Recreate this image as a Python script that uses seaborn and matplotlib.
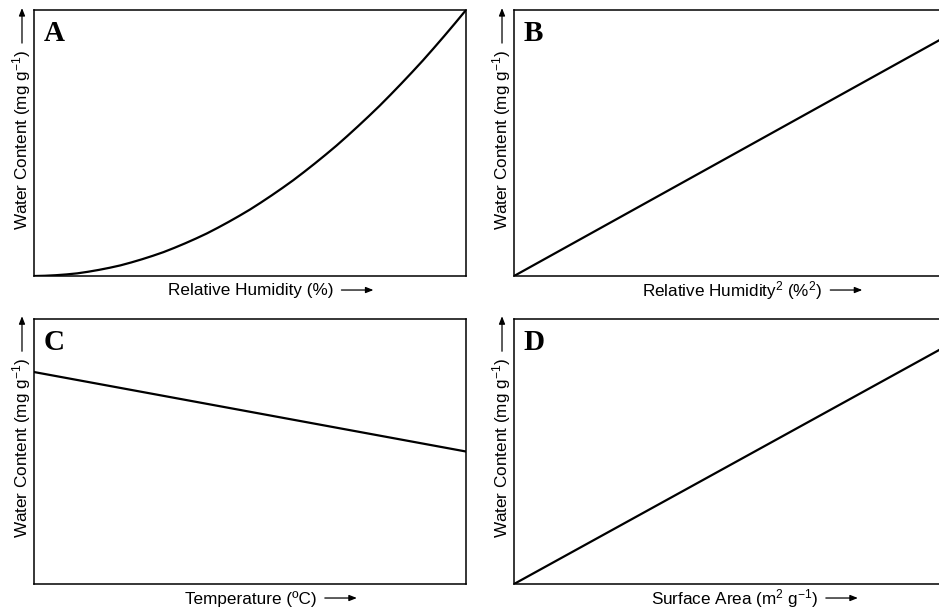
import matplotlib
matplotlib.use("Agg")
import matplotlib.pyplot as plt
import seaborn as sns
import pandas as pd

sns.set_theme(style="white")
plt.rcParams["font.family"] = ["Liberation Sans", "DejaVu Sans"]
plt.rcParams["text.color"] = "black"
plt.rcParams["mathtext.fontset"] = "custom"
plt.rcParams["mathtext.rm"] = "Liberation Sans"
plt.rcParams["mathtext.it"] = "Liberation Sans"

# Panel A: water content vs relative humidity (relative units)
rh_a = [0.000, 0.025, 0.050, 0.075, 0.100, 0.125, 0.150, 0.175, 0.200, 0.225,
        0.250, 0.275, 0.300, 0.325, 0.350, 0.375, 0.400, 0.425, 0.450, 0.475,
        0.500, 0.525, 0.550, 0.575, 0.600, 0.625, 0.650, 0.675, 0.700, 0.725,
        0.750, 0.775, 0.800, 0.825, 0.850, 0.875, 0.900, 0.925, 0.950, 0.975, 1.000]
wc_a = [0.000, 0.001, 0.003, 0.006, 0.010, 0.016, 0.023, 0.031, 0.040, 0.051,
        0.063, 0.076, 0.090, 0.106, 0.123, 0.141, 0.160, 0.181, 0.203, 0.226,
        0.250, 0.276, 0.303, 0.331, 0.360, 0.391, 0.423, 0.456, 0.490, 0.526,
        0.563, 0.601, 0.640, 0.681, 0.723, 0.766, 0.810, 0.856, 0.903, 0.951, 1.000]
# Panel B: water content vs relative humidity squared
rh2_b = [0.0, 1.0]
wc_b = [0.0, 0.89]
# Panel C: water content vs temperature
temp_c = [0.0, 1.0]
wc_c = [0.80, 0.50]
# Panel D: water content vs surface area
sa_d = [0.0, 1.0]
wc_d = [0.0, 0.887]

letters = ["A", "B", "C", "D"]
xlabels = ["Relative Humidity (%)",
           "Relative Humidity$^{2}$ (%$^{2}$)",
           "Temperature (ºC)",
           "Surface Area (m$^{2}$ g$^{-1}$)"]
ylabel = "Water Content (mg g$^{-1}$)"
series = [(rh_a, wc_a), (rh2_b, wc_b), (temp_c, wc_c), (sa_d, wc_d)]

fig = plt.figure(figsize=(9.39, 6.10), dpi=100)
# right-hand panels run just past the figure's right edge
positions = [
    [0.0362, 0.5475, 0.4601, 0.4361],
    [0.5474, 0.5475, 0.4547, 0.4361],
    [0.0362, 0.0426, 0.4601, 0.4344],
    [0.5474, 0.0426, 0.4547, 0.4344],
]
xlabel_start = [0.31, 0.30, 0.35, 0.32]

axes, xtexts, ytexts = [], [], []
for i, pos in enumerate(positions):
    ax = fig.add_axes(pos)
    xs, ys = series[i]
    df = pd.DataFrame({"x": xs, "y": ys})
    sns.lineplot(data=df, x="x", y="y", ax=ax, color="black", linewidth=1.6)
    ax.set_xlim(0, 1)
    ax.set_ylim(0, 1)
    ax.set_xticks([])
    ax.set_yticks([])
    ax.set_xlabel("")
    ax.set_ylabel("")
    for sp in ax.spines.values():
        sp.set_visible(True)
        sp.set_color("black")
        sp.set_linewidth(1.1)
    ax.text(0.023, 0.962, letters[i], transform=ax.transAxes, ha="left", va="top",
            fontsize=21, fontweight="bold", family=["Liberation Serif", "DejaVu Serif"])
    xt = ax.text(xlabel_start[i], -0.055, xlabels[i], transform=ax.transAxes,
                 ha="left", va="center", fontsize=12.3, clip_on=False)
    yt = ax.text(-12 / (pos[2] * 939), 0.173, ylabel, transform=ax.transAxes,
                 ha="center", va="bottom", rotation=90, fontsize=12.3, clip_on=False)
    axes.append(ax)
    xtexts.append(xt)
    ytexts.append(yt)

# Direction arrows after each axis label, placed from the rendered label extents
fig.canvas.draw()
renderer = fig.canvas.get_renderer()
arrow_kw = dict(arrowstyle="-|>,head_length=0.45,head_width=0.18",
                color="black", lw=0.9, mutation_scale=10, shrinkA=0, shrinkB=0)
for ax, xt, yt in zip(axes, xtexts, ytexts):
    abox = ax.get_window_extent(renderer)
    xe = xt.get_window_extent(renderer)
    ye = yt.get_window_extent(renderer)
    ya = abox.y0 - 14
    x0 = xe.x1 + 8
    fig.add_artist(matplotlib.patches.FancyArrowPatch(
        (x0, ya), (x0 + 32, ya), transform=None, **arrow_kw))
    xa = abox.x0 - 12
    y0 = ye.y1 + 7
    fig.add_artist(matplotlib.patches.FancyArrowPatch(
        (xa, y0), (xa, y0 + 35), transform=None, **arrow_kw))

fig.savefig("out.png", dpi=100)
